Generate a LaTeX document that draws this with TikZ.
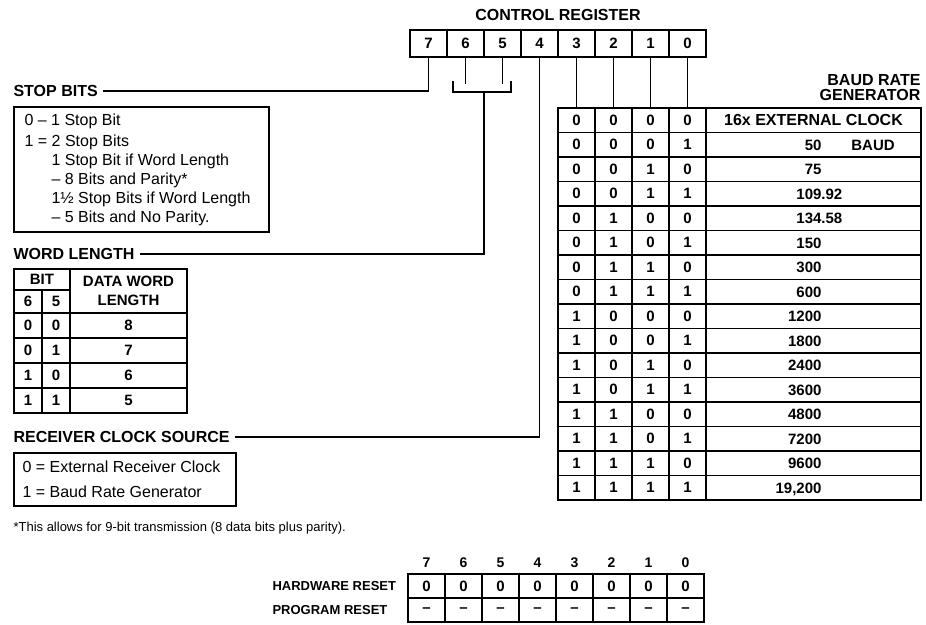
\documentclass[tikz,border=0pt]{standalone}
\usepackage{fontspec}
\setmainfont{Liberation Sans}
\usetikzlibrary{positioning}

\begin{document}
\begin{tikzpicture}[x=1pt, y=-1pt,
    line width=1.1pt,
    font=\fontsize{16}{19}\selectfont,
    head/.style={font=\fontsize{16}{17}\selectfont\bfseries, inner sep=0pt},
    note/.style={font=\fontsize{16}{19}\selectfont, inner sep=0pt, align=left},
    regcell/.style={draw, line width=1.5pt, minimum width=37pt, minimum height=27pt,
        inner sep=0pt, font=\fontsize{15}{17}\selectfont\bfseries},
    bitcell/.style={draw, line width=1.5pt, minimum width=37pt, minimum height=24.5pt,
        inner sep=0pt, font=\fontsize{15}{17}\selectfont\bfseries},
    ratecell/.style={bitcell, minimum width=215pt},
    wcell/.style={draw, line width=1.5pt, minimum width=28pt, minimum height=25pt,
        inner sep=0pt, font=\fontsize{15}{17}\selectfont\bfseries},
    panel/.style={draw, line width=1.5pt, inner sep=0pt, anchor=north west},
    rateval/.style={anchor=base east, inner sep=0pt, font=\fontsize{15}{17}\selectfont\bfseries},
    lead/.style={line width=1.1pt}
]
\path[use as bounding box] (0,0) rectangle (926,624);

% control register, bit 7 on the left
\node[head] (title) at (558,15) {CONTROL REGISTER};
\foreach \b [count=\i from 0] in {7,6,...,0}
    \node[regcell] (r\b) at ({428.5+37*\i},43.5) {\b};

% bit 7: stop bits
\node[head, anchor=west] (stop) at (13,91) {STOP BITS};
\draw[lead] ([xshift=5pt]stop.east) -| (r7.south);
\node[panel, minimum width=255pt, minimum height=125pt] (stopbox) at (13,106) {};
\node[note, anchor=north west] (stoptext) at (24,113)
    {0 -- 1 Stop Bit\\[2pt]
     1 = 2 Stop Bits\\
     \hspace*{27pt}1 Stop Bit if Word Length\\
     \hspace*{27pt}-- 8 Bits and Parity*\\
     \hspace*{27pt}1½ Stop Bits if Word Length\\
     \hspace*{27pt}-- 5 Bits and No Parity.};

% bits 6 and 5: word length
\coordinate (brk) at (484,92);
\draw[lead] (r6.south) -- ++(0,26);
\draw[lead] (r5.south) -- ++(0,26);
\draw[lead] ([xshift=-31pt,yshift=11pt]brk) |- ([xshift=27pt]brk) -- ++(0,-11);
\node[head, anchor=west] (wl) at (13,254) {WORD LENGTH};
\draw[lead] ([xshift=5pt]wl.east) -| (brk);
\node[wcell, minimum width=56pt, minimum height=21pt] (wbit) at (42,279.5) {BIT};
\node[wcell, minimum height=23pt] (w6) at (28,301.5) {6};
\node[wcell, minimum height=23pt] (w5) at (56,301.5) {5};
\node[wcell, minimum width=117pt, minimum height=44pt, align=center,
    font=\fontsize{15}{19}\selectfont\bfseries] (wdata) at (128.5,291) {DATA WORD\\LENGTH};
\foreach \a/\c/\n [count=\k from 0] in {0/0/8, 0/1/7, 1/0/6, 1/1/5} {
    \node[wcell] (wa\k) at (28,{325.5+25*\k}) {\a};
    \node[wcell] (wc\k) at (56,{325.5+25*\k}) {\c};
    \node[wcell, minimum width=117pt] (wn\k) at (128.5,{325.5+25*\k}) {\n};
}

% bit 4: receiver clock source
\node[head, anchor=west] (rcs) at (13,437) {RECEIVER CLOCK SOURCE};
\draw[lead] ([xshift=5pt]rcs.east) -| (r4.south);
\node[panel, minimum width=222pt, minimum height=53pt] (rcsbox) at (13,452) {};
\node[note, anchor=west] (rcs0) at (22,467) {0 = External Receiver Clock};
\node[note, anchor=west] (rcs1) at (22,492) {1 = Baud Rate Generator};

% bits 3..0: baud rate generator
\node[head, align=right, anchor=east, font=\fontsize{16}{15}\selectfont\bfseries]
    (brg) at (921,88) {BAUD RATE\\GENERATOR};
\foreach \k in {0,...,15} {
    \foreach \j in {3,2,1,0} {
        \pgfmathtruncatemacro\bit{mod(floor(\k/2^\j),2)}
        \node[bitcell] (b\k-\j) at ({576.5+37*(3-\j)},{120.25+24.5*\k}) {\bit};
    }
    \node[ratecell] (rate\k) at (813.5,{120.25+24.5*\k}) {};
}
\foreach \j in {3,2,1,0}
    \draw[lead] (r\j.south) -- (b0-\j.north);
\node[font=\fontsize{16}{17}\selectfont\bfseries] (ext) at (rate0) {16x EXTERNAL CLOCK};
\foreach \rate [count=\k from 1] in {50, 75, 109\rlap{.92}, 134\rlap{.58}, 150, 300, 600,
    1200, 1800, 2400, 3600, 4800, 7200, 9600, {19,200}}
    \node[rateval] (rv\k) at (822,{125.6+24.5*\k}) {\rate};
\node[rateval, anchor=base] (baud) at (873,150.1) {BAUD};

\node[note, anchor=west, font=\fontsize{13}{15}\selectfont] (foot) at (13,528)
    {*This allows for 9-bit transmission (8 data bits plus parity).};

% reset values
\foreach \b [count=\i from 0] in {7,6,...,0} {
    \node[font=\fontsize{14}{16}\selectfont\bfseries] (h\b) at ({426.5+37*\i},563) {\b};
    \node[bitcell, minimum height=24pt] (hw\b) at ({426.5+37*\i},586) {0};
    \node[bitcell, minimum height=24pt] (pr\b) at ({426.5+37*\i},610) {--};
}
\node[anchor=west, inner sep=0pt, font=\fontsize{13}{15}\selectfont\bfseries] (hwlbl) at (272,586) {HARDWARE RESET};
\node[anchor=west, inner sep=0pt, font=\fontsize{13}{15}\selectfont\bfseries] (prlbl) at (272,610) {PROGRAM RESET};
\end{tikzpicture}
\end{document}
